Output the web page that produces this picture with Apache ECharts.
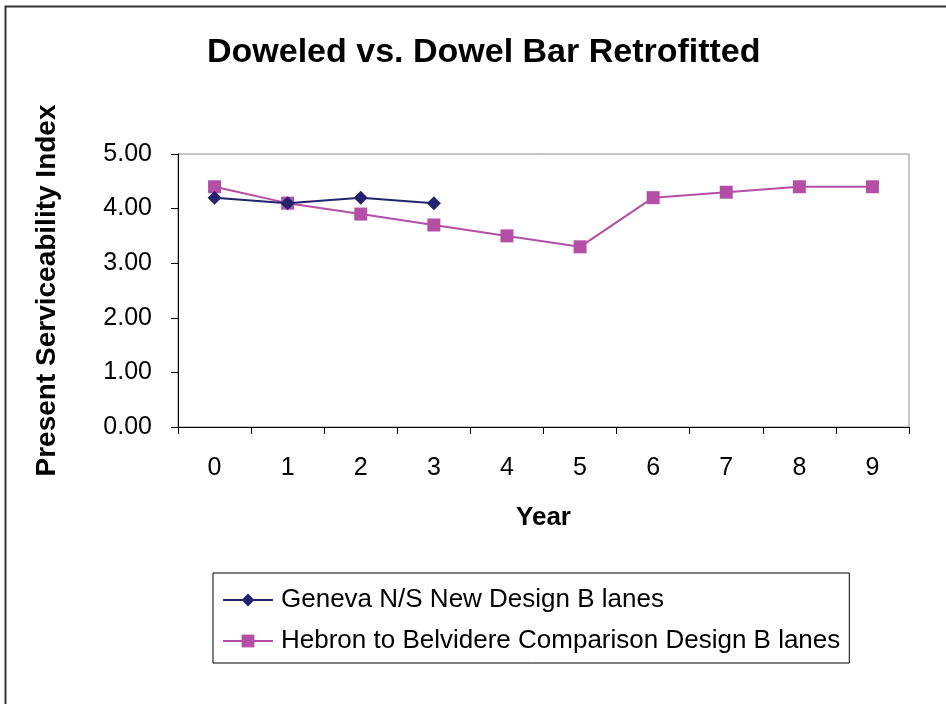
<!DOCTYPE html>
<html>
<head>
<meta charset="utf-8">
<script src="https://cdn.jsdelivr.net/npm/echarts@6/dist/echarts.min.js"></script>
<style>
html,body{margin:0;padding:0;background:#fff;}
#c{width:946px;height:704px;}
</style>
</head>
<body>
<div id="c"></div>
<script>
const years = ['0','1','2','3','4','5','6','7','8','9'];
const genevaName = 'Geneva N/S New Design B lanes';
const genevaValues = [4.2, 4.1, 4.2, 4.1];
const hebronName = 'Hebron to Belvidere Comparison Design B lanes';
const hebronValues = [4.4, 4.1, 3.9, 3.7, 3.5, 3.3, 4.2, 4.3, 4.4, 4.4];
const yTicks = [0, 1, 2, 3, 4, 5];

const font = '"Liberation Sans", Arial, sans-serif';
const chart = echarts.init(document.getElementById('c'), null, {renderer: 'canvas'});
chart.setOption({
  animation: false,
  backgroundColor: '#fff',
  textStyle: {fontFamily: font, color: '#000'},
  graphic: [{
    type: 'rect', z: -1, silent: true,
    shape: {x: 5.5, y: 6.5, width: 960, height: 720},
    style: {fill: 'none', stroke: '#333', lineWidth: 2}
  }],
  title: {
    text: 'Doweled vs. Dowel Bar Retrofitted',
    left: 202, top: 31,
    textStyle: {fontFamily: font, fontSize: 34, fontWeight: 'bold', color: '#000'}
  },
  grid: {
    left: 178, top: 154, width: 731, height: 273,
    show: true, borderColor: '#8a8a8a', borderWidth: 1, backgroundColor: 'transparent'
  },
  legend: {
    orient: 'vertical', left: 213, top: 573,
    borderColor: '#000', borderWidth: 1,
    padding: [14, 9, 9, 9], itemGap: 15,
    itemWidth: 50, itemHeight: 16,
    textStyle: {fontFamily: font, fontSize: 26, color: '#000', padding: [0, 0, 0, 3]},
    data: [genevaName, hebronName]
  },
  xAxis: {
    type: 'category', data: years, boundaryGap: true,
    name: 'Year', nameLocation: 'middle', nameGap: 78,
    nameTextStyle: {fontFamily: font, fontSize: 26, fontWeight: 'bold', color: '#000'},
    axisLine: {lineStyle: {color: '#000', width: 1}},
    axisTick: {show: true, length: 7, lineStyle: {color: '#000'}},
    axisLabel: {fontFamily: font, fontSize: 25, color: '#000', margin: 29},
    splitLine: {show: false}
  },
  yAxis: {
    type: 'value', min: 0, max: 5, interval: 1,
    name: 'Present Serviceability Index', nameLocation: 'middle', nameGap: 117,
    nameTextStyle: {fontFamily: font, fontSize: 28, fontWeight: 'bold', color: '#000'},
    axisLine: {show: true, lineStyle: {color: '#000', width: 1}},
    axisTick: {show: true, length: 7, inside: false, lineStyle: {color: '#000'}},
    axisLabel: {fontFamily: font, fontSize: 25, color: '#000', margin: 26,
      formatter: v => yTicks.includes(v) ? v.toFixed(2) : ''},
    splitLine: {show: false}
  },
  series: [
    {
      name: genevaName, type: 'line', data: genevaValues,
      symbol: 'diamond', symbolSize: 14,
      lineStyle: {color: '#23236f', width: 2},
      itemStyle: {color: '#23236f'}, z: 3
    },
    {
      name: hebronName, type: 'line', data: hebronValues,
      symbol: 'rect', symbolSize: 13,
      lineStyle: {color: '#b54fa5', width: 2},
      itemStyle: {color: '#b54fa5'}, z: 2
    }
  ]
});
</script>
</body>
</html>
